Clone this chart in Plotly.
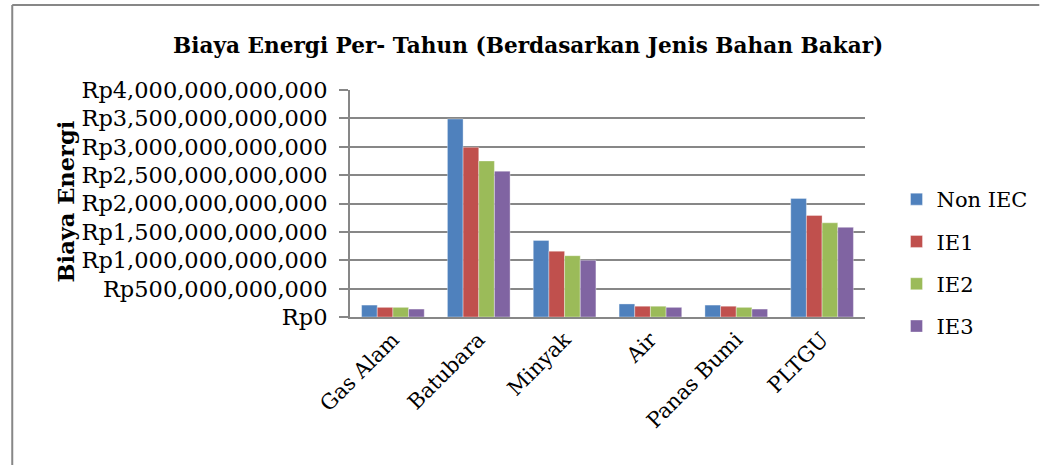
import plotly.graph_objects as go

categories = ["Gas Alam", "Batubara", "Minyak", "Air", "Panas Bumi", "PLTGU"]
series_names = ["Non IEC", "IE1", "IE2", "IE3"]
non_iec = [0.21e12, 3.49e12, 1.35e12, 0.23e12, 0.21e12, 2.09e12]
ie1 = [0.17e12, 2.99e12, 1.16e12, 0.19e12, 0.19e12, 1.79e12]
ie2 = [0.17e12, 2.75e12, 1.08e12, 0.19e12, 0.17e12, 1.66e12]
ie3 = [0.14e12, 2.57e12, 1.00e12, 0.17e12, 0.14e12, 1.58e12]
tick_vals = [0, 0.5e12, 1e12, 1.5e12, 2e12, 2.5e12, 3e12, 3.5e12, 4e12]
tick_text = ["Rp0", "Rp500,000,000,000", "Rp1,000,000,000,000", "Rp1,500,000,000,000",
             "Rp2,000,000,000,000", "Rp2,500,000,000,000", "Rp3,000,000,000,000",
             "Rp3,500,000,000,000", "Rp4,000,000,000,000"]

colors = ["#4F81BD", "#C0504D", "#9BBB59", "#8064A2"]
values = [non_iec, ie1, ie2, ie3]

FONT = "DejaVu Serif, Liberation Serif, serif"
W, H = 1045, 465
L, R, T, B = 350, 172, 90, 148
pw = W - L - R
ph = H - T - B

def px(x):
    return (x - L) / pw

def py(y):
    return (H - B - y) / ph

fig = go.Figure()
for name, vals, col in zip(series_names, values, colors):
    fig.add_trace(go.Bar(
        x=categories, y=vals, name=name, legendgroup=name,
        marker=dict(color=col, line=dict(width=0.6, color="rgba(255,255,255,0.6)")),
    ))

fig.update_layout(
    width=W, height=H,
    margin=dict(l=L, r=R, t=T, b=B, pad=0),
    paper_bgcolor="white", plot_bgcolor="white",
    barmode="group", bargap=0.27, bargroupgap=0,
    font=dict(family=FONT, size=21, color="#000000"),
    showlegend=True,
    legend=dict(x=px(905), y=py(179), xanchor="left", yanchor="top",
                font=dict(family=FONT, size=21, color="#000000"), tracegroupgap=12,
                bgcolor="rgba(0,0,0,0)"),
    xaxis=dict(tickangle=-45, showgrid=False, showline=True, linecolor="#878787",
               linewidth=2, ticks="", automargin=False,
               tickfont=dict(family=FONT, size=21)),
    yaxis=dict(range=[0, 4e12], tickvals=tick_vals, ticktext=tick_text,
               showgrid=True, gridcolor="#878787", gridwidth=2,
               showline=True, linecolor="#878787", linewidth=2,
               ticks="outside", ticklen=9, tickcolor="#878787", tickwidth=2,
               ticklabelstandoff=7, zeroline=False, automargin=False,
               tickfont=dict(family=FONT, size=22.5)),
    annotations=[
        dict(text="<b>Biaya Energi Per- Tahun (Berdasarkan Jenis Bahan Bakar)</b>",
             xref="paper", yref="paper", x=px(531), y=py(45), showarrow=False,
             xanchor="center", yanchor="middle", font=dict(family=FONT, size=21.6)),
        dict(text="<b>Biaya Energi</b>", textangle=-90,
             xref="paper", yref="paper", x=px(62), y=py(201), showarrow=False,
             xanchor="center", yanchor="middle", font=dict(family=FONT, size=22.5)),
    ],
    shapes=[
        dict(type="line", xref="paper", yref="paper", x0=px(7), x1=px(7),
             y0=py(5), y1=py(470), line=dict(color="#878787", width=2)),
        dict(type="line", xref="paper", yref="paper", x0=px(7), x1=px(1050),
             y0=py(5), y1=py(5), line=dict(color="#878787", width=2)),
    ],
)

fig.write_html("out.html", config={"displayModeBar": False},
               post_script="document.body.style.margin='0px';")
